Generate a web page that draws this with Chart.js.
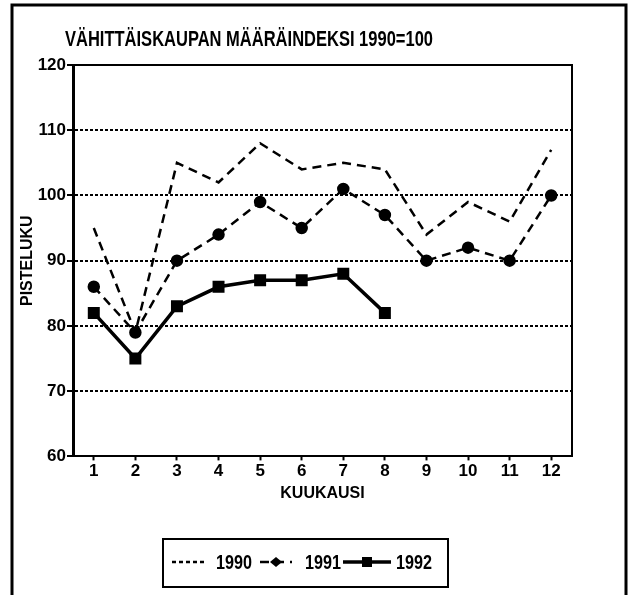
<!DOCTYPE html>
<html>
<head>
<meta charset="utf-8">
<script src="https://cdn.jsdelivr.net/npm/chart.js@4.4.1/dist/chart.umd.min.js"></script>
<style>
  html, body { margin: 0; padding: 0; background: #fff; }
  #wrap { width: 635px; height: 595px; }
</style>
</head>
<body>
<div id="wrap"><canvas id="chart" width="635" height="595"></canvas></div>
<script>
// Data
const months = ['1', '2', '3', '4', '5', '6', '7', '8', '9', '10', '11', '12'];
const values1990 = [95, 79, 105, 102, 108, 104, 105, 104, 94, 99, 96, 107];
const values1991 = [86, 79, 90, 94, 99, 95, 101, 97, 90, 92, 90, 100];
const values1992 = [82, 75, 83, 86, 87, 87, 88, 82, null, null, null, null];
const yTicks = [60, 70, 80, 90, 100, 110, 120];

const FONT = "'Liberation Sans', Arial, sans-serif";
Chart.defaults.font.family = FONT;
Chart.defaults.font.weight = 'bold';
Chart.defaults.color = '#000';

// Frame, title, plot border and legend
const decorations = {
    id: 'decorations',
    beforeDraw(chart) {
        const c = chart.ctx;
        c.save();
        c.fillStyle = '#fff';
        c.fillRect(0, 0, chart.width, chart.height);
        c.strokeStyle = '#000';
        c.lineWidth = 3;
        c.strokeRect(12, 5, 614, 600);
        c.restore();
    },
    afterDraw(chart) {
        const c = chart.ctx;
        const a = chart.chartArea;
        c.save();
        // top and right border of plot
        c.strokeStyle = '#000';
        c.lineWidth = 2;
        c.beginPath();
        c.moveTo(a.left, a.top);
        c.lineTo(a.right, a.top);
        c.lineTo(a.right, a.bottom);
        c.stroke();

        // title
        c.fillStyle = '#000';
        c.font = 'bold 22px ' + FONT;
        c.textBaseline = 'middle';
        c.textAlign = 'left';
        c.fillText('VÄHITTÄISKAUPAN MÄÄRÄINDEKSI 1990=100', 65, 40, 368);

        // legend
        c.lineWidth = 2;
        c.strokeRect(163, 539, 285, 48);
        const cy = 562;
        const items = [
            { x0: 172, x1: 204, tx: 216 },
            { x0: 260, x1: 292, tx: 305 },
            { x0: 343, x1: 391, tx: 396 }
        ];
        c.font = 'bold 20px ' + FONT;
        chart.data.datasets.forEach((ds, i) => {
            const it = items[i];
            c.beginPath();
            c.setLineDash(i === 0 ? [4, 3] : (ds.borderDash || []));
            c.lineWidth = ds.borderWidth;
            c.moveTo(it.x0, cy);
            c.lineTo(it.x1, cy);
            c.stroke();
            c.setLineDash([]);
            const mx = (it.x0 + it.x1) / 2;
            if (ds.pointRadius > 0) {
                c.beginPath();
                if (ds.pointStyle === 'rect') {
                    c.rect(mx - 5, cy - 5, 10, 10);
                } else {
                    c.moveTo(mx, cy - 5);
                    c.lineTo(mx + 6, cy);
                    c.lineTo(mx, cy + 5);
                    c.lineTo(mx - 6, cy);
                    c.closePath();
                }
                c.fill();
            }
            c.fillText(ds.label, it.tx, cy + 1, 36);
        });
        c.restore();
    }
};

const ctx = document.getElementById('chart').getContext('2d');
const chart = new Chart(ctx, {
    type: 'line',
    data: {
        labels: months,
        datasets: [
            {
                label: '1990',
                data: values1990,
                borderColor: '#000',
                backgroundColor: '#000',
                borderWidth: 2.5,
                borderDash: [9, 6],
                pointRadius: 0,
                fill: false,
                tension: 0
            },
            {
                label: '1991',
                data: values1991,
                borderColor: '#000',
                backgroundColor: '#000',
                borderWidth: 2.5,
                borderDash: [9, 6],
                pointStyle: 'circle',
                pointRadius: 5,
                fill: false,
                tension: 0
            },
            {
                label: '1992',
                data: values1992,
                borderColor: '#000',
                backgroundColor: '#000',
                borderWidth: 3.5,
                pointStyle: 'rect',
                pointRadius: 6,
                fill: false,
                spanGaps: false,
                tension: 0
            }
        ]
    },
    options: {
        responsive: false,
        animation: false,
        layout: {
            padding: { left: 12, right: 63, top: 65, bottom: 91 }
        },
        plugins: {
            legend: { display: false },
            title: { display: false },
            tooltip: { enabled: false }
        },
        scales: {
            x: {
                offset: true,
                grid: {
                    offset: false,
                    drawOnChartArea: false,
                    drawTicks: true,
                    tickLength: 4,
                    tickColor: '#000',
                    tickWidth: 2
                },
                border: { display: true, color: '#000', width: 2 },
                ticks: {
                    padding: 1,
                    font: { size: 17, weight: 'bold' },
                    maxRotation: 0
                },
                title: {
                    display: true,
                    text: 'KUUKAUSI',
                    font: { size: 16, weight: 'bold' },
                    padding: 1
                }
            },
            y: {
                min: 60,
                max: 120,
                afterBuildTicks(scale) {
                    scale.ticks = yTicks.map(v => ({ value: v }));
                },
                afterFit(scale) {
                    scale.width = 61;
                },
                grid: {
                    color: c => (c.tick && (c.tick.value === 60 || c.tick.value === 120)) ? 'rgba(0,0,0,0)' : '#000',
                    lineWidth: 2,
                    drawTicks: true,
                    tickLength: 6,
                    tickColor: '#000',
                    tickWidth: 2
                },
                border: { display: true, color: '#000', width: 3, dash: [3, 2] },
                ticks: {
                    padding: 1,
                    font: { size: 17, weight: 'bold' }
                },
                title: {
                    display: true,
                    text: 'PISTELUKU',
                    font: { size: 16, weight: 'bold' },
                    padding: { top: 6, bottom: 0 }
                }
            }
        }
    },
    plugins: [decorations]
});
</script>
</body>
</html>
